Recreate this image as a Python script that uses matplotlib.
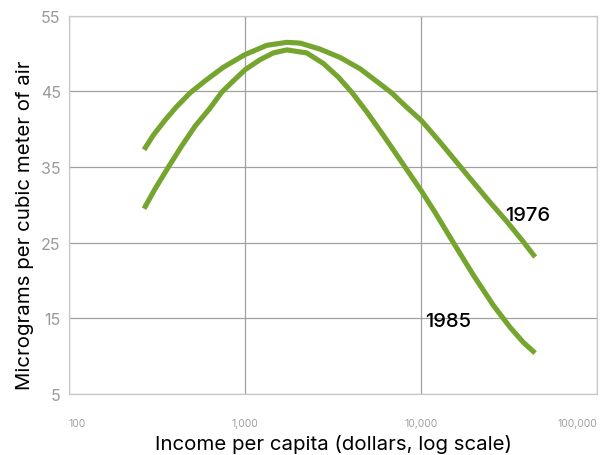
import matplotlib
matplotlib.use("Agg")
import matplotlib.pyplot as plt
from matplotlib.ticker import FixedLocator, FixedFormatter

plt.rcParams['font.family'] = ['Inter', 'DejaVu Sans']

# Data (income in dollars, micrograms per m3)
income_1976 = [267, 301, 351, 409, 487, 593, 753, 1004, 1328, 1726, 2053,
               2668, 3466, 4502, 5848, 6815, 8294, 10000, 12820, 18980,
               24120, 30690, 38140, 44430]
pm_1976 = [37.3, 39.2, 41.2, 43.0, 44.8, 46.4, 48.2, 49.9, 51.1, 51.5, 51.4,
           50.6, 49.5, 48.0, 46.0, 44.8, 42.9, 41.2, 38.3, 33.5,
           30.6, 27.8, 25.1, 23.1]

income_1985 = [267, 308, 367, 437, 520, 633, 737, 858, 1004, 1217, 1448,
               1726, 2242, 2786, 3389, 4039, 4915, 6107, 8111, 10000, 12010,
               15260, 19830, 25750, 32050, 38140, 44430]
pm_1985 = [29.5, 32.1, 35.0, 37.8, 40.4, 42.8, 44.9, 46.4, 47.9, 49.2, 50.1,
           50.5, 50.1, 48.7, 46.9, 44.9, 42.3, 39.2, 35.0, 31.9, 29.0,
           25.0, 20.7, 16.7, 13.8, 11.8, 10.4]

x_ticks = [100, 1000, 10000, 100000]
x_labels = ["100", "1,000", "10,000", "100,000"]
y_ticks = [5, 15, 25, 35, 45, 55]

green = "#76a52f"

fig = plt.figure(figsize=(6.05, 4.56), dpi=100)
ax = fig.add_axes([0.114, 0.134, 0.873, 0.829])

for xs, ys in [(income_1976, pm_1976), (income_1985, pm_1985)]:
    ax.plot(xs, ys, color=green, lw=3.7, solid_capstyle='butt',
            solid_joinstyle='round')

ax.set_xscale('log')
ax.set_xlim(100, 100000)
ax.set_ylim(5, 55)
ax.xaxis.set_major_locator(FixedLocator(x_ticks))
ax.xaxis.set_major_formatter(FixedFormatter(x_labels))
ax.xaxis.set_minor_locator(FixedLocator([]))
ax.set_yticks(y_ticks)

ax.grid(True, color="#a0a0a0", lw=0.9)
ax.set_axisbelow(True)
for s in ax.spines.values():
    s.set_color("#c8c8c8")
    s.set_linewidth(0.9)

ax.tick_params(axis='x', length=0, pad=17, labelsize=7.5, labelcolor="#a0a0a0")
ax.tick_params(axis='y', length=0, pad=6, labelsize=11.5, labelcolor="#9a9a9a")

# first and last x tick labels hug the axis ends
xt = ax.get_xticklabels()
xt[0].set_ha('left')
xt[-1].set_ha('right')

ax.set_xlabel("Income per capita (dollars, log scale)", fontsize=14.7, labelpad=5)
ax.set_ylabel("Micrograms per cubic meter of air", fontsize=14.7)
ax.yaxis.set_label_coords(-0.066, 0.45)

ax.text(30000, 28.7, "1976", fontsize=14.5, fontweight='medium', va='center', ha='left')
ax.text(10550, 14.7, "1985", fontsize=14.5, fontweight='medium', va='center', ha='left')

fig.savefig("out.png", dpi=100)
